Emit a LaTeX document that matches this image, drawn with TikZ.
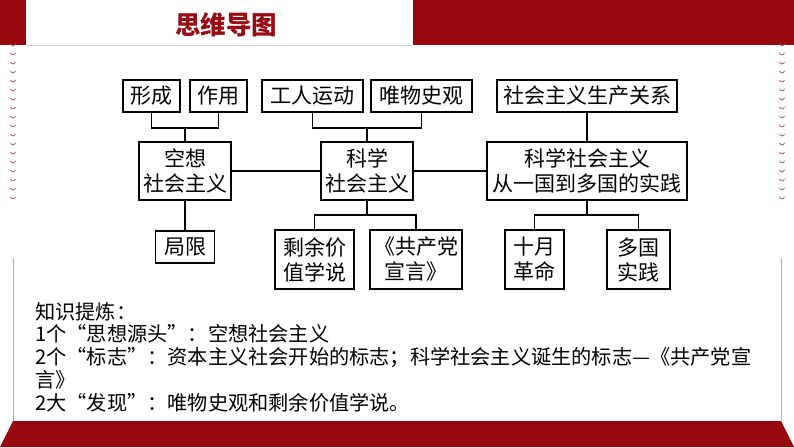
\documentclass[tikz,border=0pt]{standalone}
\usepackage{fontspec}
\setmainfont{Noto Sans CJK SC}
\definecolor{barred}{RGB}{150,8,12}
\definecolor{titlered}{RGB}{150,12,18}
\definecolor{stitchc}{RGB}{165,95,105}
\definecolor{edgegray}{RGB}{175,175,175}
\begin{document}
\begin{tikzpicture}[x=1pt,y=-1pt,
  box/.style={draw, line width=1.3pt, inner sep=0pt, align=center, font=\fontsize{21}{25}\selectfont},
  link/.style={line width=1.3pt},
  stitch/.style={draw=stitchc, line width=0.8pt},
  notes/.style={anchor=base west, inner sep=0pt, font=\fontsize{20.2}{23}\selectfont}]
\useasboundingbox (0,0) rectangle (794,447);
\fill[white] (0,0) rectangle (794,447);
% top decorations
\fill[barred] (0,0) rectangle (26,45);
\fill[barred] (413,0) rectangle (794,45);
\draw[edgegray!60, line width=0.6pt] (26,45.5) -- (413,45.5);
\node[font=\fontsize{25.5}{28}\selectfont\bfseries, text=titlered, inner sep=0pt] (title) at (226,25) {思维导图};
% stitches
\foreach \k in {0,...,17} {
  \draw[stitch] ({10.5},{44+9*\k}) .. controls ({12},{46.5+9*\k}) and ({14},{46.5+9*\k}) .. ({15.5},{44+9*\k});
  \draw[stitch] ({779.5},{44+9*\k}) .. controls ({781},{46.5+9*\k}) and ({783},{46.5+9*\k}) .. ({784.5},{44+9*\k});
}
% side lines and bottom band
\draw[edgegray, line width=0.8pt] (13,258) -- (13,421);
\draw[edgegray, line width=0.8pt] (781,258) -- (781,421);
\fill[barred] (13,421) -- (781,421) -- (794,447) -- (0,447) -- cycle;
% boxes top row
\node[box, minimum width=57pt, minimum height=32pt] (xc) at (151.5,96) {形成};
\node[box, minimum width=57pt, minimum height=32pt] (zy) at (218.5,96) {作用};
\node[box, minimum width=101pt, minimum height=32pt] (gr) at (312.5,96) {工人运动};
\node[box, minimum width=101pt, minimum height=32pt] (ww) at (421.5,96) {唯物史观};
\node[box, minimum width=180pt, minimum height=32pt] (sc) at (587,96) {社会主义生产关系};
% middle row
\node[box, minimum width=92pt, minimum height=58pt] (kx) at (185,171) {空想\\社会主义};
\node[box, minimum width=92pt, minimum height=58pt] (kk) at (367,171) {科学\\社会主义};
\node[box, minimum width=200pt, minimum height=58pt] (sj) at (587,171) {科学社会主义\\从一国到多国的实践};
% bottom row
\node[box, minimum width=59pt, minimum height=32pt] (jx) at (185,247) {局限};
\node[box, minimum width=79pt, minimum height=59pt] (sy) at (314.5,259.5) {剩余价\\值学说};
\node[box, minimum width=92pt, minimum height=59pt] (gc) at (416,259.5) {《共产党\\宣言》};
\node[box, minimum width=59pt, minimum height=59pt] (sy2) at (534.5,259.5) {十月\\革命};
\node[box, minimum width=63pt, minimum height=59pt] (dg) at (638.5,259.5) {多国\\实践};
% junctions
\coordinate (j1) at (185,128);
\coordinate (j2) at (367,128);
\coordinate (j3) at (367,215);
\coordinate (j4) at (587,215);
% connectors
\draw[link] (xc.south) |- (j1) -| (zy.south);
\draw[link] (j1) -- (kx.north);
\draw[link] (gr.south) |- (j2) -| (ww.south);
\draw[link] (j2) -- (kk.north);
\draw[link] (sc.south) -- (sj.north);
\draw[link] (kx.east) -- (kk.west);
\draw[link] (kk.east) -- (sj.west);
\draw[link] (kx.south) -- (jx.north);
\draw[link] (kk.south) -- (j3);
\draw[link] (sy.north) |- (j3) -| (gc.north);
\draw[link] (sj.south) -- (j4);
\draw[link] (sy2.north) |- (j4) -| (dg.north);
% notes
\node[notes] (n1) at (35,319) {知识提炼：};
\node[notes] (n2) at (35,341) {1个“思想源头”：空想社会主义};
\node[notes] (n3) at (35,364) {2个“标志”：资本主义社会开始的标志；科学社会主义诞生的标志—《共产党宣};
\node[notes] (n4) at (35,387) {言》};
\node[notes] (n5) at (35,410) {2大“发现”：唯物史观和剩余价值学说。};
\end{tikzpicture}
\end{document}
